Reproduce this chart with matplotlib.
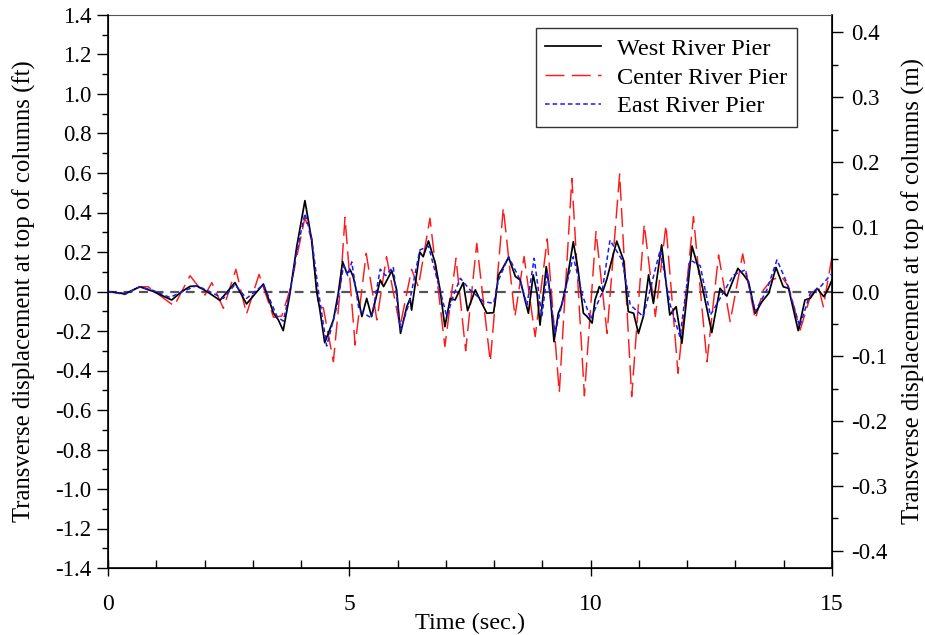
import matplotlib
matplotlib.use("Agg")
import matplotlib.pyplot as plt
from matplotlib.ticker import MultipleLocator, FormatStrFormatter

# ---- data (time in s, displacement in ft) ----
west_t = [0.00, 0.35, 0.66, 0.94, 1.32, 1.53, 1.70, 1.84, 2.05, 2.32, 2.63, 2.87, 3.22, 3.43,
          3.53, 3.63, 3.77, 3.91, 4.08, 4.22, 4.32, 4.39, 4.49, 4.67, 4.77, 4.86, 4.95, 5.02,
          5.08, 5.19, 5.26, 5.36, 5.46, 5.64, 5.71, 5.88, 5.98, 6.06, 6.19, 6.26, 6.29, 6.46,
          6.53, 6.64, 6.78, 6.88, 6.98, 7.09, 7.19, 7.29, 7.36, 7.45, 7.61, 7.71, 7.85, 7.99,
          8.09, 8.16, 8.30, 8.44, 8.54, 8.64, 8.71, 8.81, 8.89, 8.95, 9.08, 9.16, 9.24, 9.33,
          9.40, 9.50, 9.64, 9.74, 9.85, 9.92, 10.03, 10.09, 10.18, 10.25, 10.33, 10.54, 10.68,
          10.78, 10.89, 10.99, 11.09, 11.20, 11.30, 11.47, 11.64, 11.77, 11.89, 12.00, 12.10,
          12.24, 12.37, 12.51, 12.68, 12.82, 13.05, 13.17, 13.27, 13.41, 13.55, 13.69, 13.84,
          13.99, 14.10, 14.30, 14.44, 14.55, 14.69, 14.83, 14.91, 15.00]
west_y = [0.000, -0.012, 0.024, 0.000, -0.043, 0.000, 0.026, 0.028, 0.000, -0.045, 0.045,
          -0.063, 0.038, -0.110, -0.144, -0.198, -0.010, 0.227, 0.460, 0.260, 0.008, -0.094,
          -0.259, -0.144, -0.010, 0.151, 0.092, 0.109, 0.075, -0.043, -0.127, -0.035, -0.127,
          0.058, 0.025, 0.105, 0.008, -0.212, -0.077, -0.035, -0.094, 0.200, 0.176, 0.256,
          0.143, 0.008, -0.178, -0.035, -0.043, 0.008, 0.045, -0.097, 0.008, -0.043, -0.110,
          -0.107, 0.084, 0.110, 0.173, 0.076, 0.058, -0.043, -0.110, 0.084, -0.010, -0.170,
          0.126, -0.009, -0.254, -0.110, -0.068, 0.042, 0.252, 0.109, -0.110, -0.125, -0.160,
          -0.043, 0.025, 0.000, 0.058, 0.255, 0.160, -0.102, -0.110, -0.212, -0.127, 0.084,
          -0.060, 0.236, -0.119, -0.077, -0.262, -0.009, 0.230, 0.109, -0.043, -0.208, 0.016,
          -0.023, 0.117, 0.084, 0.050, -0.110, -0.051, -0.009, 0.122, 0.024, 0.016, -0.198,
          -0.043, -0.034, 0.016, -0.026, 0.008, 0.058]

center_t = [0.00, 0.35, 0.66, 0.83, 1.37, 1.70, 2.01, 2.15, 2.39, 2.65, 2.87, 3.13, 3.43, 3.60,
            3.77, 4.08, 4.22, 4.36, 4.46, 4.67, 4.81, 4.91, 5.12, 5.35, 5.57, 5.77, 6.05, 6.29,
            6.43, 6.67, 6.98, 7.21, 7.41, 7.64, 7.92, 8.19, 8.43, 8.62, 8.85, 9.10, 9.35, 9.61,
            9.87, 10.11, 10.34, 10.60, 10.85, 11.11, 11.34, 11.56, 11.81, 12.13, 12.41, 12.65,
            12.89, 13.15, 13.41, 13.58, 13.75, 13.96, 14.10, 14.34, 14.55, 14.72, 14.82, 15.00]
center_y = [0.000, -0.010, 0.024, 0.024, -0.073, 0.080, -0.018, 0.045, -0.085, 0.112, -0.114,
            0.087, -0.131, -0.124, 0.008, 0.375, 0.260, -0.077, -0.082, -0.355, 0.008, 0.375,
            -0.271, 0.193, -0.144, 0.176, -0.178, 0.112, 0.024, 0.371, -0.279, 0.168, -0.300,
            0.244, -0.355, 0.424, -0.127, 0.177, -0.229, 0.266, -0.512, 0.573, -0.528, 0.303,
            -0.212, 0.595, -0.532, 0.340, -0.127, 0.337, -0.414, 0.379, -0.356, 0.185, -0.153,
            0.190, -0.141, 0.008, 0.060, 0.075, 0.024, -0.195, -0.026, 0.024, -0.077, 0.176]

east_t = [0.00, 0.35, 0.66, 0.94, 1.28, 1.55, 1.84, 2.10, 2.39, 2.63, 2.87, 3.22, 3.50, 3.63,
          3.77, 3.91, 4.08, 4.22, 4.36, 4.53, 4.74, 4.88, 4.97, 5.05, 5.20, 5.46, 5.64, 5.75,
          5.91, 6.06, 6.25, 6.46, 6.64, 7.02, 7.16, 7.30, 7.50, 7.78, 7.99, 8.09, 8.30, 8.54,
          8.68, 8.83, 8.99, 9.10, 9.26, 9.44, 9.64, 9.82, 10.00, 10.23, 10.40, 10.65, 10.82,
          11.09, 11.44, 11.64, 11.85, 12.06, 12.27, 12.48, 12.68, 12.96, 13.20, 13.41, 13.65,
          13.86, 14.07, 14.33, 14.55, 14.76, 15.00]
east_y = [0.000, -0.015, 0.024, 0.005, -0.030, 0.000, 0.030, 0.000, -0.035, 0.035, -0.035,
          0.035, -0.125, -0.150, 0.000, 0.200, 0.395, 0.270, 0.000, -0.276, -0.077, 0.130,
          0.080, 0.150, -0.094, -0.135, 0.113, 0.080, 0.125, -0.195, -0.050, 0.210, 0.230,
          -0.127, -0.017, 0.067, 0.008, -0.051, -0.060, 0.058, 0.176, 0.058, -0.068, 0.168,
          -0.127, 0.101, -0.212, -0.026, 0.176, -0.010, -0.141, -0.010, 0.260, 0.160, -0.068,
          -0.127, 0.210, -0.060, -0.230, 0.160, 0.130, -0.120, -0.035, 0.084, 0.109, -0.101,
          0.008, 0.160, 0.041, -0.178, -0.009, 0.024, 0.092]

series_labels = ["West River Pier", "Center River Pier", "East River Pier"]
FT_TO_M = 0.3048

plt.rcParams['font.family'] = ['Liberation Serif', 'DejaVu Serif']

fig = plt.figure(figsize=(9.25, 6.35), dpi=100)
ax = fig.add_axes([108/925, 1 - 568/635, (832-108)/925, (568-15)/635])

ax.axhline(0, color='#555555', lw=1.6, ls=(0, (4, 3)), zorder=1)
ax.plot(west_t, west_y, color='black', lw=1.25, label=series_labels[0], zorder=3)
ax.plot(center_t, center_y, color='#ff1a1a', lw=1.05, ls=(0, (13, 5)), label=series_labels[1], zorder=2)
ax.plot(east_t, east_y, color='#1a1aff', lw=1.1, ls=(0, (3, 2)), label=series_labels[2], zorder=4)

ax.set_xlim(0, 15)
ax.set_ylim(-1.4, 1.4)
ax.xaxis.set_major_locator(MultipleLocator(5))
ax.xaxis.set_minor_locator(MultipleLocator(1))
ax.yaxis.set_major_locator(MultipleLocator(0.2))
ax.yaxis.set_minor_locator(MultipleLocator(0.1))
ax.yaxis.set_major_formatter(FormatStrFormatter('%.1f'))
ax.tick_params(axis='y', which='major', direction='out', length=8, width=1, labelsize=16.5, pad=4)
ax.tick_params(axis='y', which='minor', direction='out', length=4, width=1)
ax.tick_params(axis='x', which='major', direction='inout', length=12, width=1, labelsize=17, pad=13)
ax.tick_params(axis='x', which='minor', direction='in', length=6, width=1)
ax.tick_params(top=False, right=False, which='both')
ax.spines['top'].set_color('#555555')
for s in ['left', 'bottom', 'right']:
    ax.spines[s].set_linewidth(1.2)

ax.set_xlabel('Time (sec.)', fontsize=17.5, labelpad=-2)
ax.set_ylabel('Transverse displacement at top of columns (ft)', fontsize=17.8, labelpad=14)

ax2 = ax.twinx()
ax2.set_ylim(-1.4 * FT_TO_M, 1.4 * FT_TO_M)
ax2.yaxis.set_major_locator(MultipleLocator(0.1))
ax2.yaxis.set_minor_locator(MultipleLocator(0.05))
ax2.yaxis.set_major_formatter(FormatStrFormatter('%.1f'))
ax2.tick_params(axis='y', which='major', direction='out', length=8, width=1, labelsize=16.5, pad=6)
ax2.tick_params(axis='y', which='minor', direction='out', length=4, width=1)
ax2.set_ylabel('Transverse displacement at top of columns (m)', fontsize=17.8, labelpad=10)
ax2.spines['top'].set_visible(False)

leg = ax.legend(loc='upper right', bbox_to_anchor=(0.9517, 0.9765), fontsize=17.5, frameon=True,
                fancybox=False, edgecolor='black', handlelength=2.3, handletextpad=0.65,
                borderpad=0.4, labelspacing=0.28, borderaxespad=0.0)
leg.get_frame().set_linewidth(1.0)

fig.savefig('out.png', dpi=100)
